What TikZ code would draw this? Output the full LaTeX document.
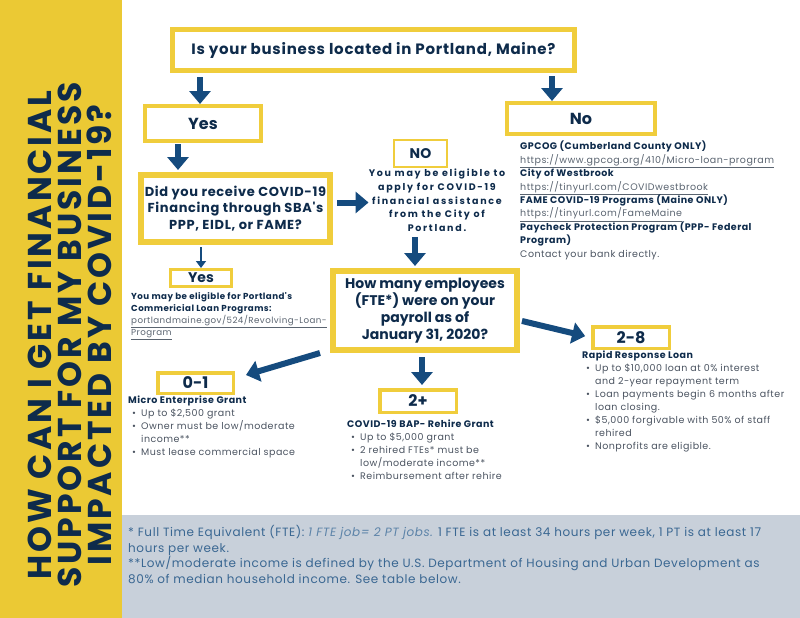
\documentclass[tikz,border=0pt]{standalone}
\usepackage{fontspec}
\setmainfont{Poppins}
\newfontfamily\wide[LetterSpace=5]{Poppins}
\newfontfamily\spaced[LetterSpace=18]{Poppins}
\newfontfamily\titlefont[LetterSpace=9]{Poppins}
\usetikzlibrary{arrows.meta}
\definecolor{bandyellow}{HTML}{EBC934}
\definecolor{boxyellow}{HTML}{F0CD3C}
\definecolor{navy}{HTML}{0E2B4B}
\definecolor{arrowblue}{HTML}{154B7E}
\definecolor{bodygray}{HTML}{4A5360}
\definecolor{linkgray}{HTML}{5A6470}
\definecolor{footgray}{HTML}{C8D0DA}
\definecolor{footblue}{HTML}{3A6792}
\definecolor{footlight}{HTML}{5C83A8}
\newcommand\itm{\hspace*{4pt}\makebox[9pt][l]{\textbullet}}
\newcommand\cont{\hspace*{13pt}}
\tikzset{
  qbox/.style={draw=boxyellow, fill=white, text=navy, align=center, inner sep=0pt},
  info/.style={anchor=north west, inner sep=0pt, align=left, text=bodygray},
  arr/.style={draw=arrowblue, line width=6pt, -{Triangle[length=13pt,width=21pt]}},
  thinarr/.style={draw=arrowblue, line width=2.5pt, -{Triangle[length=7pt,width=10pt]}}
}
\begin{document}
\begin{tikzpicture}[x=1pt,y=-1pt]
\useasboundingbox (0,0) rectangle (800,618);
\fill[bandyellow] (0,0) rectangle (122,618);
\fill[footgray] (122,515) rectangle (800,618);
\node[rotate=90, text=navy, align=center, font=\titlefont\fontsize{33}{30}\selectfont\bfseries] (title) at (70,335) {HOW CAN I GET FINANCIAL\\SUPPORT FOR MY BUSINESS\\IMPACTED BY COVID-19?};

\node[qbox, line width=5pt, minimum width=402pt, minimum height=41pt, font=\wide\fontsize{15}{18}\selectfont\bfseries] (loc) at (373.5,50) {Is your business located in Portland, Maine?};
\node[qbox, line width=4pt, minimum width=116pt, minimum height=35pt, font=\fontsize{16}{18}\selectfont\bfseries] (yesbox) at (203,123.5) {Yes};
\node[qbox, line width=4pt, minimum width=148pt, minimum height=31pt, font=\fontsize{16}{18}\selectfont\bfseries] (nobox) at (581,118.5) {No};
\node[qbox, line width=6pt, minimum width=189pt, minimum height=67pt, font=\wide\fontsize{13}{16.5}\selectfont\bfseries] (did) at (235.5,208.5) {Did you receive COVID-19\\Financing through SBA's\\PPP, EIDL, or FAME?};
\node[qbox, line width=2.5pt, minimum width=53pt, minimum height=27pt, font=\fontsize{14}{16}\selectfont\bfseries] (nosmall) at (420.5,153.5) {NO};
\node[text=navy, align=center, inner sep=0pt, font=\spaced\fontsize{9.5}{13.7}\selectfont\bfseries] (maybe) at (437,200.5) {You may be eligible to\\apply for COVID-19\\financial assistance\\from the City of\\Portland.};
\node[qbox, line width=3pt, minimum width=61pt, minimum height=17pt, font=\fontsize{14}{16}\selectfont\bfseries] (yessmall) at (201,278) {Yes};
\node[qbox, line width=6pt, minimum width=184pt, minimum height=79pt, font=\fontsize{14}{17}\selectfont\bfseries] (how) at (425,310.5) {How many employees\\(FTE*) were on your\\payroll as of\\January 31, 2020?};
\node[qbox, line width=3.5pt, minimum width=75.5pt, minimum height=20.5pt, font=\fontsize{16}{18}\selectfont\bfseries] (one) at (195.5,383) {0-1};
\node[qbox, line width=3.5pt, minimum width=76.5pt, minimum height=22.5pt, font=\fontsize{16}{18}\selectfont\bfseries] (two) at (418,401) {2+};
\node[qbox, line width=3.5pt, minimum width=76.5pt, minimum height=21.5pt, font=\fontsize{16}{18}\selectfont\bfseries] (eight) at (631,337.5) {2-8};

\node[info, font=\wide\fontsize{9.5}{13.4}\selectfont] (nolist) at (520,141) {\textbf{\color{navy}GPCOG (Cumberland County ONLY)}\\
{\color{linkgray}\underline{https://www.gpcog.org/410/Micro-loan-program}}\\
\textbf{\color{navy}City of Westbrook}\\
{\color{linkgray}\underline{https://tinyurl.com/COVIDwestbrook}}\\
\textbf{\color{navy}FAME COVID-19 Programs (Maine ONLY)}\\
{\color{linkgray}\underline{https://tinyurl.com/FameMaine}}\\
\textbf{\color{navy}Paycheck Protection Program (PPP- Federal}\\
\textbf{\color{navy}Program)}\\
Contact your bank directly.};
\node[info, font=\wide\fontsize{8.7}{12}\selectfont] (yesinfo) at (131,292) {\textbf{\color{navy}You may be eligible for Portland's}\\
\textbf{\color{navy}Commericial Loan Programs:}\\
{\color{linkgray}\underline{portlandmaine.gov/524/Revolving-Loan-}}\\
{\color{linkgray}\underline{Program}}};
\node[info, font=\wide\fontsize{9.5}{13}\selectfont] (onelist) at (128,396) {\textbf{\color{navy}Micro Enterprise Grant}\\
\itm Up to \$2,500 grant\\
\itm Owner must be low/moderate\\
\cont income**\\
\itm Must lease commercial space};
\node[info, font=\wide\fontsize{9.5}{13}\selectfont] (twolist) at (347,420) {\textbf{\color{navy}COVID-19 BAP- Rehire Grant}\\
\itm Up to \$5,000 grant\\
\itm 2 rehired FTEs* must be\\
\cont low/moderate income**\\
\itm Reimbursement after rehire};
\node[info, font=\wide\fontsize{9.5}{13}\selectfont] (eightlist) at (582,351) {\textbf{\color{navy}Rapid Response Loan}\\
\itm Up to \$10,000 loan at 0\% interest\\
\cont and 2-year repayment term\\
\itm Loan payments begin 6 months after\\
\cont loan closing.\\
\itm \$5,000 forgivable with 50\% of staff\\
\cont rehired\\
\itm Nonprofits are eligible.};
\node[info, text=footblue, font=\wide\fontsize{12}{15.6}\selectfont] (foot) at (128,525) {* Full Time Equivalent (FTE): {\itshape\color{footlight}1 FTE job= 2 PT jobs.} 1 FTE is at least 34 hours per week, 1 PT is at least 17\\
hours per week.\\
**Low/moderate income is defined by the U.S. Department of Housing and Urban Development as\\
80\% of median household income. See table below.};

\draw[arr, shorten <=4pt] ([xshift=-3pt]yesbox.north |- loc.south) -- ([xshift=-3pt]yesbox.north);
\draw[arr, shorten <=3pt] ([xshift=-29pt]nobox.north |- loc.south) -- ([xshift=-29pt]nobox.north);
\draw[arr, shorten <=1pt, shorten >=2pt] ([xshift=-25pt]yesbox.south) -- ([xshift=-25pt]yesbox.south |- did.north);
\draw[arr, shorten <=4pt] ([yshift=6pt]did.east) -- ([yshift=6pt]did.east -| maybe.west);
\draw[thinarr, shorten <=2pt] (yessmall.north |- did.south) -- (yessmall.north);
\draw[arr, shorten <=5pt, shorten >=2pt] ([xshift=-10pt]how.north |- maybe.south) -- ([xshift=-10pt]how.north);
\draw[arr, shorten <=2pt, shorten >=6pt] ([yshift=-10pt]how.east) -- (eight.west);
\draw[arr] ([xshift=-10pt]how.south west) -- ([xshift=11pt,yshift=-4pt]one.north east);
\draw[arr, shorten <=4pt, shorten >=3pt] ([xshift=-3pt]how.south) -- ([xshift=-3pt]how.south |- two.north);
\end{tikzpicture}
\end{document}
